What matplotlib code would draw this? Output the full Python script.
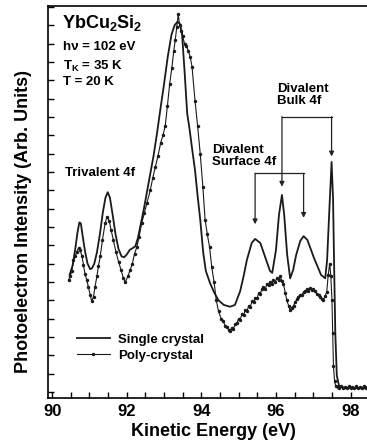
import numpy as np
import matplotlib
matplotlib.use('Agg')
import matplotlib.pyplot as plt

# single crystal spectrum (solid line)
single_energy = [90.47, 90.55, 90.62, 90.68, 90.73, 90.77, 90.82, 90.88, 90.95, 91.02,
                 91.07, 91.13, 91.20, 91.28, 91.36, 91.43, 91.49, 91.55, 91.62, 91.70,
                 91.78, 91.86, 91.93, 92.00, 92.08, 92.16, 92.23, 92.30, 92.38, 92.46,
                 92.55, 92.64, 92.72, 92.81, 92.90, 93.00, 93.10, 93.20, 93.28, 93.36,
                 93.42, 93.48, 93.55, 93.62, 93.68, 93.75, 93.83, 93.90, 93.97, 94.05,
                 94.12, 94.24, 94.35, 94.46, 94.60, 94.77, 94.90, 95.04, 95.13, 95.22,
                 95.35, 95.44, 95.58, 95.71, 95.84, 95.90, 96.00, 96.08, 96.16, 96.22,
                 96.30, 96.38, 96.46, 96.54, 96.65, 96.74, 96.84, 96.94, 97.02, 97.13,
                 97.21, 97.32, 97.37, 97.43, 97.49, 97.53, 97.56, 97.59, 97.63, 97.69,
                 97.83, 98.00, 98.30, 98.60]
single_int = [6.4, 6.9, 7.8, 8.7, 9.25, 9.2, 8.5, 7.7, 7.0, 6.7,
              6.75, 7.0, 7.6, 8.6, 9.8, 10.6, 10.9, 10.6, 9.7, 8.6,
              7.8, 7.4, 7.35, 7.5, 7.75, 7.85, 7.95, 8.4, 9.2, 10.0,
              11.0, 12.0, 12.9, 14.1, 15.4, 16.8, 18.3, 19.5, 20.0, 20.2,
              20.1, 19.6, 17.5, 15.2, 14.4, 13.3, 12.1, 10.7, 9.4, 7.6,
              6.6, 5.9, 5.4, 5.0, 4.75, 4.65, 4.75, 5.5, 6.3, 7.2,
              8.13, 8.35, 8.13, 7.36, 6.6, 6.5, 7.75, 9.66, 10.75, 9.66,
              7.47, 6.2, 6.66, 7.47, 8.24, 8.5, 8.3, 7.75, 7.3, 6.77,
              6.38, 6.2, 7.2, 9.93, 12.55, 10.5, 6.66, 3.2, 0.9, 0.33,
              0.22, 0.22, 0.2, 0.2]

# poly-crystal spectrum (dotted line with markers)
poly_energy = [90.44, 90.48, 90.53, 90.57, 90.62, 90.66, 90.71, 90.75, 90.80, 90.84,
               90.88, 90.93, 90.97, 91.02, 91.06, 91.11, 91.15, 91.20, 91.24, 91.29,
               91.35, 91.42, 91.47, 91.53, 91.58, 91.64, 91.71, 91.78, 91.85, 91.91,
               91.96, 92.03, 92.09, 92.15, 92.21, 92.27, 92.33, 92.40, 92.47, 92.54,
               92.63, 92.70, 92.77, 92.84, 92.91, 92.97, 93.03, 93.09, 93.15, 93.21,
               93.26, 93.30, 93.34, 93.38, 93.42, 93.46, 93.50, 93.55, 93.60, 93.65,
               93.70, 93.75, 93.83, 93.90, 93.97, 94.04, 94.10, 94.16, 94.22, 94.28,
               94.34, 94.40, 94.46, 94.53, 94.59, 94.64, 94.68, 94.73, 94.77, 94.82,
               94.86, 94.91, 94.95, 95.00, 95.04, 95.09, 95.13, 95.18, 95.22, 95.27,
               95.31, 95.36, 95.40, 95.45, 95.49, 95.54, 95.58, 95.62, 95.66, 95.71,
               95.76, 95.80, 95.84, 95.89, 95.93, 95.98, 96.02, 96.07, 96.11, 96.16,
               96.20, 96.25, 96.29, 96.34, 96.38, 96.42, 96.47, 96.51, 96.56, 96.60,
               96.65, 96.69, 96.74, 96.78, 96.83, 96.87, 96.92, 96.96, 97.00, 97.05,
               97.09, 97.14, 97.18, 97.23, 97.27, 97.32, 97.36, 97.40, 97.44, 97.47,
               97.50, 97.52, 97.54, 97.57, 97.60, 97.65, 97.70, 97.75, 97.80, 97.85,
               97.90, 97.95, 98.00, 98.05, 98.10, 98.15, 98.20, 98.25, 98.30, 98.35,
               98.40, 98.45, 98.50]
poly_int = [6.1, 6.3, 6.6, 7.2, 7.4, 7.65, 7.85, 7.75, 7.4, 6.95,
            6.45, 6.1, 5.75, 5.3, 4.95, 5.2, 5.75, 6.3, 6.85, 7.4,
            8.3, 9.2, 9.55, 9.35, 8.85, 8.3, 7.65, 7.1, 6.65, 6.2,
            6.0, 6.3, 6.65, 7.0, 7.55, 7.9, 8.45, 9.2, 9.75, 10.3,
            11.0, 11.7, 12.3, 12.9, 13.6, 14.0, 14.5, 15.6, 16.8, 17.7,
            18.6, 19.2, 19.9, 20.6, 20.0, 19.7, 19.4, 19.0, 18.9, 18.6,
            18.3, 17.75, 15.9, 14.5, 13.0, 11.2, 9.4, 8.6, 7.9, 6.8,
            6.0, 5.0, 4.4, 4.0, 3.85, 3.6, 3.55, 3.4, 3.35, 3.5,
            3.45, 3.7, 3.75, 4.0, 3.95, 4.25, 4.2, 4.45, 4.4, 4.7,
            4.65, 4.95, 4.9, 5.15, 5.1, 5.4, 5.35, 5.6, 5.7, 5.6,
            5.9, 5.85, 6.0, 5.9, 6.1, 6.0, 6.2, 6.1, 6.3, 6.05,
            5.9, 5.4, 5.0, 4.7, 4.45, 4.6, 4.7, 4.9, 5.05, 5.2,
            5.3, 5.3, 5.45, 5.5, 5.6, 5.5, 5.65, 5.55, 5.6, 5.5,
            5.35, 5.3, 5.2, 5.05, 5.0, 5.25, 5.45, 6.4, 7.0, 6.3,
            5.0, 3.2, 1.4, 0.6, 0.3, 0.25, 0.2, 0.3, 0.2, 0.25,
            0.2, 0.3, 0.2, 0.25, 0.2, 0.3, 0.2, 0.25, 0.2, 0.3,
            0.2, 0.25, 0.2]

x_ticks = [90, 92, 94, 96, 98]
sample_info = ['h\u03bd = 102 eV', 'T$_K$ = 35 K', 'T = 20 K']


def peak_at(energy, intensity, lo, hi):
  # position and height of the largest point between lo and hi
  e = np.array(energy)
  y = np.array(intensity)
  sel = (e > lo) & (e < hi)
  i = np.argmax(np.where(sel, y, -np.inf))
  return e[i], y[i]


def bracket(ax, x1, x2, top, tip1, tip2):
  ax.plot([x1, x2], [top, top], color='#222222', lw=0.9)
  for x, tip in ((x1, tip1), (x2, tip2)):
    ax.annotate('', xy=(x, tip), xytext=(x, top),
                arrowprops=dict(arrowstyle='-|>', color='#222222', lw=0.9,
                                mutation_scale=7, shrinkA=0, shrinkB=0))


def main():
  plt.rcParams['font.family'] = ['Liberation Sans', 'DejaVu Sans']
  plt.rcParams['font.weight'] = 'bold'
  plt.rcParams['mathtext.default'] = 'regular'

  fig = plt.figure(figsize=(3.67, 4.46), dpi=100)
  ax = fig.add_axes([48 / 367, 48 / 446, 325 / 367, 392 / 446])

  ax.plot(single_energy, single_int, color='#1a1a1a', lw=1.3, label='Single crystal')
  ax.plot(poly_energy, poly_int, color='#1a1a1a', lw=0.8, ls='-', marker='o',
          ms=2.5, mew=0, label='Poly-crystal')

  ax.set_xlim(89.89, 98.6)
  ax.set_ylim(-0.33, 21.06)
  ax.set_xticks(x_ticks)
  ax.set_xticks(np.arange(90, 98.6, 0.5), minor=True)
  ax.set_yticks(np.arange(0, 22, 1))
  ax.set_yticklabels([])
  ax.tick_params(axis='both', which='both', direction='in', length=4, width=1,
                 top=False, right=False)
  ax.tick_params(axis='x', labelsize=12, pad=4)
  for s in ax.spines.values():
    s.set_linewidth(1.2)

  ax.set_xlabel('Kinetic Energy (eV)', fontsize=13, fontweight='bold')
  ax.xaxis.set_label_coords(0.508, -0.064)
  ax.set_ylabel('Photoelectron Intensity (Arb. Units)', fontsize=13,
                fontweight='bold')
  ax.yaxis.set_label_coords(-0.05, 0.45)

  ax.text(90.27, 20.7, 'YbCu$_2$Si$_2$', fontsize=13, va='top', ha='left')
  for k, line in enumerate(sample_info):
    ax.text(90.29, 19.15 - k * 0.95, line, fontsize=9.5, va='top', ha='left')
  ax.text(90.35, 12.3, 'Trivalent 4f', fontsize=9.5, va='top', ha='left')
  ax.text(94.29, 13.55, 'Divalent\nSurface 4f', fontsize=9.5, va='top', ha='left',
          linespacing=1.0)
  ax.text(96.03, 16.85, 'Divalent\nBulk 4f', fontsize=9.5, va='top', ha='left',
          linespacing=1.0)

  # surface and bulk peaks of the single crystal spectrum
  s1 = peak_at(single_energy, single_int, 95.0, 95.8)
  s2 = peak_at(single_energy, single_int, 96.5, 97.0)
  b1 = peak_at(single_energy, single_int, 95.9, 96.4)
  b2 = peak_at(single_energy, single_int, 97.3, 97.7)
  bracket(ax, s1[0], s2[0], 11.93, s1[1] + 0.8, s2[1] + 1.0)
  bracket(ax, b1[0], b2[0], 15.02, b1[1] + 0.45, b2[1] + 0.3)

  ax.legend(loc='upper left', bbox_to_anchor=(0.089, 0.165), frameon=False,
            fontsize=9.5, handlelength=2.5, handletextpad=0.6, labelspacing=0.3,
            borderpad=0, borderaxespad=0)

  fig.savefig('out.png', dpi=100)


if __name__ == '__main__':
  main()
